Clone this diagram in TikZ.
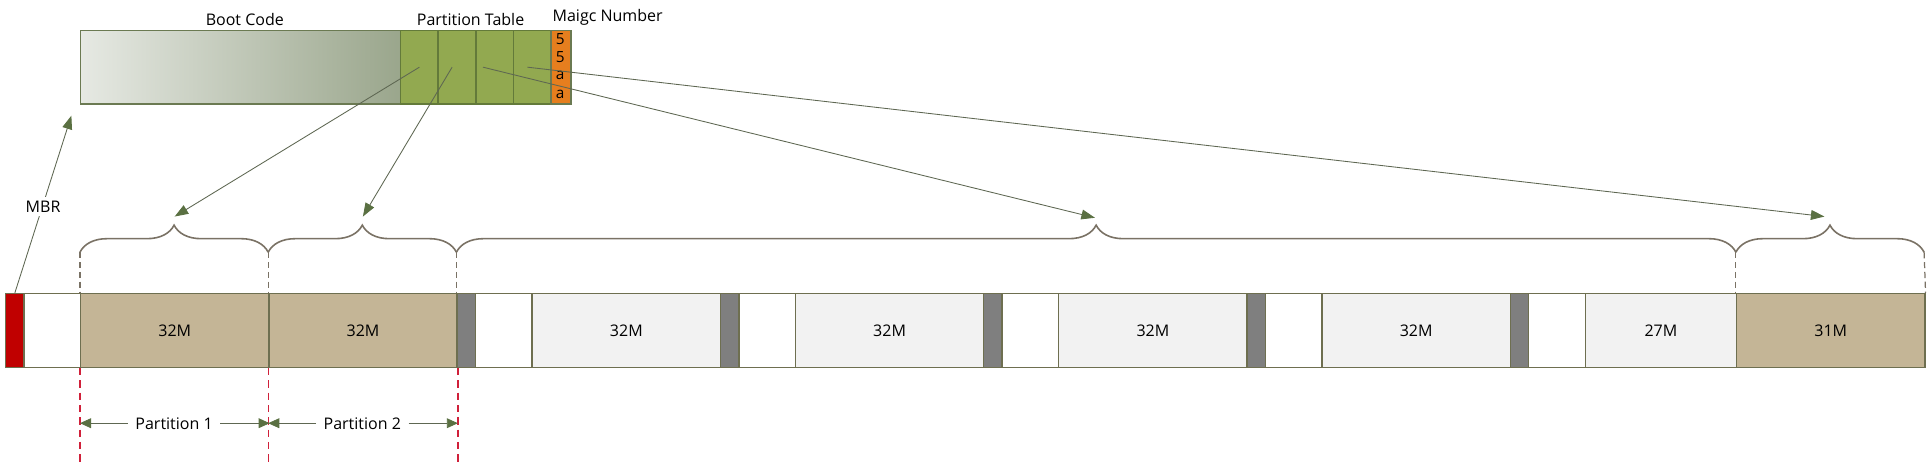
\documentclass[tikz,border=0pt]{standalone}
\usepackage{fontspec}
\setmainfont{Open Sans}
\usetikzlibrary{arrows.meta,decorations.pathreplacing,positioning}

\definecolor{barline}{HTML}{6E6F50}
\definecolor{parttan}{HTML}{C4B596}
\definecolor{logicgray}{HTML}{F2F2F2}
\definecolor{gapgray}{HTML}{7F7F7F}
\definecolor{mbrred}{HTML}{C00000}
\definecolor{bootlight}{HTML}{E6E9E3}
\definecolor{bootdark}{HTML}{9AA68C}
\definecolor{bootline}{HTML}{6B7A52}
\definecolor{tabgreen}{HTML}{92A950}
\definecolor{tabline}{HTML}{637A3A}
\definecolor{magicorange}{HTML}{E67E1E}
\definecolor{bracegray}{HTML}{7A7265}
\definecolor{cutred}{HTML}{D0203A}
\definecolor{ptrline}{HTML}{5E6752}
\definecolor{arrowgreen}{HTML}{5A7042}

\tikzset{
  seg/.style={draw=barline, line width=1.2pt, minimum height=60pt, inner sep=0pt,
    anchor=north west, font=\fontsize{13}{15}\selectfont},
  lbl/.style={inner sep=0pt, font=\fontsize{13}{15}\selectfont},
  ptr/.style={draw=ptrline, line width=0.7pt,
    -{Triangle[length=11pt,width=8pt,color=arrowgreen]}},
  dimarrow/.style={draw=ptrline, line width=0.7pt,
    -{Triangle[length=9pt,width=8pt,color=arrowgreen]}},
  spanbrace/.style={draw=bracegray, line width=1.3pt, decorate,
    decoration={brace, amplitude=22pt}},
  guide/.style={draw=bracegray, line width=1pt, dash pattern=on 5pt off 3pt},
  cutline/.style={draw=cutred, line width=1pt, dash pattern=on 6pt off 4pt}
}

\begin{document}
\begin{tikzpicture}[x=1pt,y=-1pt]
  \useasboundingbox (0,0) rectangle (1568,376);

  % MBR sector layout
  \node[seg, left color=bootlight, right color=bootdark, draw=bootline,
    minimum width=260pt] (boot) at (65,24) {};
  \foreach \i in {1,...,4}
    \node[seg, fill=tabgreen, draw=tabline, minimum width=30.6pt] (tab\i)
      at (325+30.6*\i-30.6,24) {};
  \node[seg, fill=magicorange, draw=bootline, minimum width=16pt] (magic)
    at (447.4,24) {};
  \foreach \d [count=\k] in {5,5,a,a}
    \node[inner sep=0pt, font=\fontsize{12.5}{12.5}\selectfont] (digit\k)
      at (455.4,16.5+15*\k) {\d};
  \node[lbl, anchor=base] (bootlab) at (199,20.5) {Boot Code};
  \node[lbl, anchor=base] (tablab) at (382.5,20.5) {Partition Table};
  \node[lbl, anchor=base west] (magiclab) at (449,17.5) {Maigc Number};

  % disk layout
  \node[seg, fill=mbrred, minimum width=15pt] (mbr) at (4,238) {};
  \node[seg, fill=white, minimum width=46pt] (pad) at (19,238) {};
  \node[seg, fill=parttan, minimum width=153pt] (p1) at (65,238) {32M};
  \node[seg, fill=parttan, minimum width=153pt] (p2) at (218,238) {32M};
  \foreach \i/\w/\lab in {0/153/32M, 1/153/32M, 2/153/32M, 3/153/32M, 4/123/27M} {
    \node[seg, fill=gapgray, minimum width=15pt] (gap\i) at (371+214*\i,238) {};
    \node[seg, fill=white, minimum width=46pt] (free\i) at (386+214*\i,238) {};
    \node[seg, fill=logicgray, minimum width=\w pt] (log\i) at (432+214*\i,238) {\lab};
  }
  \node[seg, fill=parttan, minimum width=153pt] (p3) at (1411,238) {31M};

  % braces over the entries
  \foreach \a/\b in {65/218, 218/371, 371/1411, 1411/1564} {
    \draw[spanbrace] (\a,205) -- (\b,205);
    \draw[guide] (\a,205) -- (\a,238);
  }
  \draw[guide] (1564,205) -- (p3.north east);

  \coordinate (tip1) at (142,176);
  \coordinate (tip2) at (295,176);
  \coordinate (tip3) at (890,177);
  \coordinate (tip4) at (1483,176);
  \draw[ptr] (tab1.center) -- (tip1);
  \draw[ptr] ([xshift=-4pt]tab2.center) -- (tip2);
  \draw[ptr] ([xshift=-9.5pt]tab3.center) -- (tip3);
  \draw[ptr] ([xshift=-4pt]tab4.center) -- (tip4);

  % MBR pointer
  \coordinate (mbrtip) at (58,94);
  \draw[ptr] (mbr.north) -- (mbrtip);
  \node[lbl, fill=white, inner sep=3pt] (mbrlab) at (35,168) {MBR};

  % partition extents
  \foreach \n in {p1, p2}
    \draw[cutline] (\n.south west) -- ++(0,78);
  \draw[cutline] (p2.south east) -- ++(0,78);
  \node[lbl, inner xsep=6pt] (len1) at (141.5,344) {Partition 1};
  \node[lbl, inner xsep=6pt] (len2) at (294.5,344) {Partition 2};
  \draw[dimarrow] (len1.west) -- (len1.west -| p1.west);
  \draw[dimarrow] (len1.east) -- (len1.east -| p1.east);
  \draw[dimarrow] (len2.west) -- (len2.west -| p2.west);
  \draw[dimarrow] (len2.east) -- (len2.east -| p2.east);
\end{tikzpicture}
\end{document}
